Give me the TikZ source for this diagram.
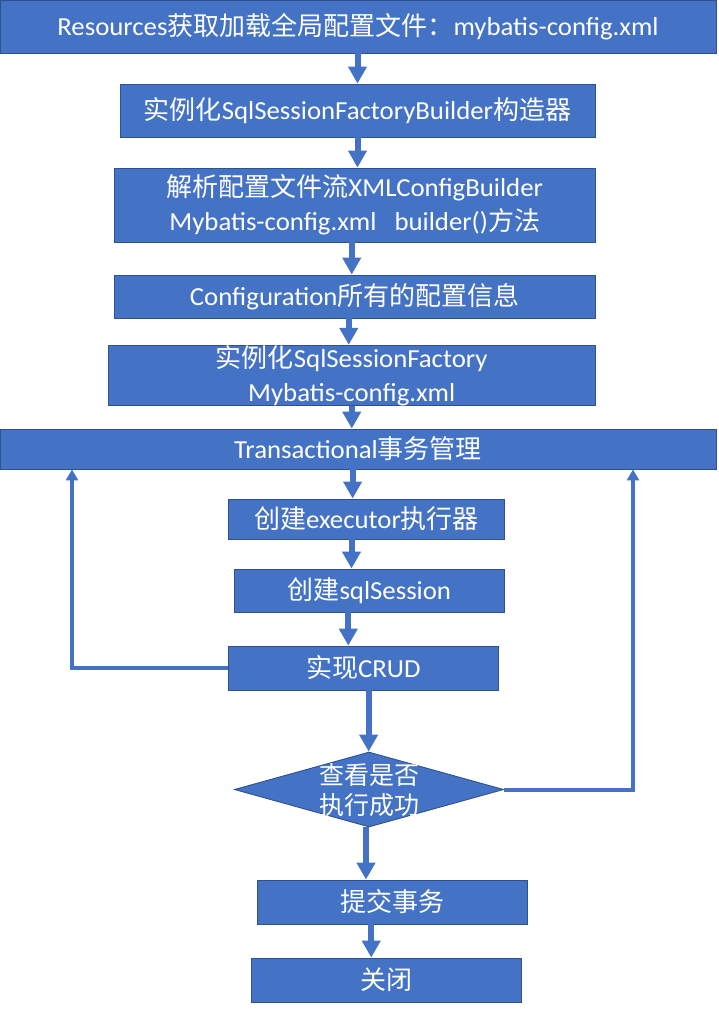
\documentclass[tikz,border=0pt]{standalone}
\usepackage{fontspec}
\setmainfont{Carlito}[FakeStretch=1.03]
\newfontfamily\cjk{Noto Sans CJK SC}
\usetikzlibrary{shapes.geometric,arrows.meta,calc}
\definecolor{blu}{HTML}{4472C4}
\definecolor{bdr}{HTML}{2F528F}
\tikzset{
  box/.style={draw=bdr, fill=blu, text=white, line width=0.9pt, inner sep=0pt, align=center,
    font=\fontsize{26}{34}\selectfont},
  dia/.style={diamond, draw=bdr, fill=blu, text=white, line width=0.9pt, inner sep=0pt,
    font=\fontsize{25}{30}\selectfont},
  flow/.style={draw=blu, line width=6pt, -{Triangle[length=17pt,width=18pt]}},
  back/.style={draw=blu, line width=4pt, -{Triangle[length=11pt,width=12pt]}}
}
\begin{document}
\begin{tikzpicture}[x=1pt,y=-1pt]
\useasboundingbox (0,0) rectangle (718,1012);
\node[box, minimum width=716pt, minimum height=53pt] (b1) at (358,26.5)
  {Resources{\cjk 获取加载全局配置文件：}mybatis-config.xml};
\node[box, minimum width=475pt, minimum height=53pt] (b2) at (357.5,110.5)
  {{\cjk 实例化}SqlSessionFactoryBuilder{\cjk 构造器}};
\node[box, minimum width=480.5pt, minimum height=74pt] (b3) at (354.75,205)
  {{\cjk 解析配置文件流}XMLConfigBuilder\\Mybatis-config.xml\ \ \ builder(){\cjk 方法}};
\node[box, minimum width=480.5pt, minimum height=43pt] (b4) at (354.75,296.5)
  {Configuration{\cjk 所有的配置信息}};
\node[box, minimum width=486.5pt, minimum height=53pt] (b5) at (351.75,375.5)
  {{\cjk 实例化}SqlSessionFactory\\Mybatis-config.xml};
\node[box, minimum width=716pt, minimum height=40pt] (b6) at (358,449)
  {Transactional{\cjk 事务管理}};
\node[box, minimum width=276pt, minimum height=40pt] (b7) at (366.5,519)
  {{\cjk 创建}executor{\cjk 执行器}};
\node[box, minimum width=270.6pt, minimum height=43pt] (b8) at (369.3,590.5)
  {{\cjk 创建}sqlSession};
\node[box, minimum width=269.5pt, minimum height=44pt] (b9) at (363.25,668)
  {{\cjk 实现}CRUD};
\node[dia, minimum width=269.3pt, minimum height=75pt, aspect=3.59] (d) at (369,789.5)
  {\smash{\raisebox{-10pt}{\makebox[0pt]{\begin{tabular}[c]{@{}c@{}}{\cjk 查看是否}\\{\cjk 执行成功}\end{tabular}}}}};
\node[box, minimum width=270.5pt, minimum height=44pt] (b10) at (392.25,902)
  {{\cjk 提交事务}};
\node[box, minimum width=270.5pt, minimum height=44pt] (b11) at (386.25,980)
  {{\cjk 关闭}};
\coordinate (lx) at (72,668);
\coordinate (rx) at (633,789.5);
% main flow
\draw[flow] (b1.south -| b2.north) -- (b2.north);
\draw[flow] (b2.south) -- (b2.south |- b3.north);
\draw[flow] ([xshift=-3pt]b3.south) -- ([xshift=-3pt]b3.south |- b4.north);
\draw[flow] ([xshift=-6pt]b4.south) -- ([xshift=-6pt]b4.south |- b5.north);
\draw[flow] (b5.south) -- (b5.south |- b6.north);
\draw[flow] ([xshift=-5.4pt]b6.south) -- ([xshift=-5.4pt]b6.south |- b7.north);
\draw[flow] ([xshift=-15pt]b7.south) -- ([xshift=-15pt]b7.south |- b8.north);
\draw[flow] ([xshift=-21pt]b8.south) -- ([xshift=-21pt]b8.south |- b9.north);
\draw[flow] ([xshift=5.4pt]b9.south) -- ([xshift=5.4pt]b9.south |- d.north);
\draw[flow] ([xshift=-3pt]d.south) -- ([xshift=-3pt]d.south |- b10.north);
\draw[flow] ([xshift=-21pt]b10.south) -- ([xshift=-21pt]b10.south |- b11.north);
% loops
\draw[back] (b9.west) -- (lx) -- (lx |- b6.south);
\draw[back] (d.east) -- (rx) -- (rx |- b6.south);
\end{tikzpicture}
\end{document}
